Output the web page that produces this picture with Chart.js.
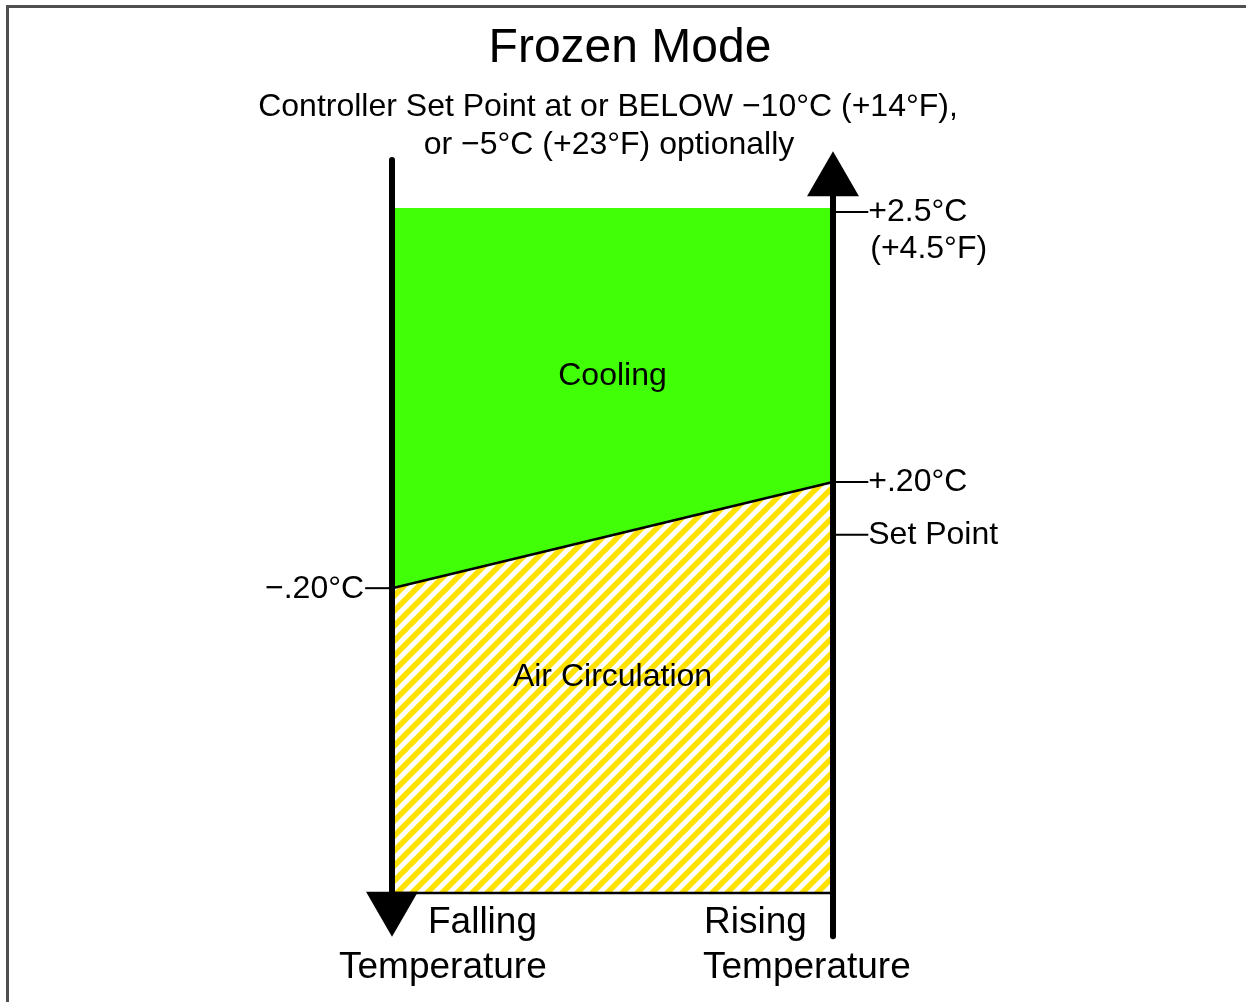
<!DOCTYPE html>
<html>
<head>
<meta charset="utf-8">
<script src="https://cdn.jsdelivr.net/npm/chart.js@4.4.1/dist/chart.umd.min.js"></script>
<style>
html, body { margin: 0; padding: 0; background: #fff; }
#c { display: block; }
</style>
</head>
<body>
<canvas id="c" width="1246" height="1002"></canvas>
<script>
// Frozen Mode: cooling / air circulation switching band
// x: 0 = falling-temperature side, 1 = rising-temperature side
// y: diagram level, 0 = bottom of band, 100 = top of cooling area
const sides = [0, 1];
const coolingTop = [100, 100];
const switchLevel = [44.5, 60.0];      // -.20°C falling, +.20°C rising
const floorLevel = [0, 0];
const fallingAxis = [107, -2.0];       // line top -> arrow head
const risingAxis = [-6.3, 103.9];      // line bottom -> arrow head

const rightTickLevels = [99.4, 60.0, 52.3];
const rightTickLabels = [['+2.5°C', '(+4.5°F)'], ['+.20°C'], ['Set Point']];
const leftTickLevels = [44.5];
const leftTickLabels = ['\u2212.20°C'];

const zoneNames = ['Cooling', 'Air Circulation'];
const zoneLevels = [74.2, 30.2];

const titleText = 'Frozen Mode';
const subtitleLines = ['Controller Set Point at or BELOW \u221210°C (+14°F),', 'or \u22125°C (+23°F) optionally'];
const sideLabels = [['Falling', 'Temperature'], ['Rising', 'Temperature']];

const FONT = "'Liberation Sans', Arial, Helvetica, sans-serif";
const GREEN = '#40ff06';
const YELLOW = '#ffe200';

// diagonal yellow/white hatch for the air circulation band
function makeHatch() {
    const s = 15;
    const c = document.createElement('canvas');
    c.width = s; c.height = s;
    const g = c.getContext('2d');
    g.fillStyle = '#fff';
    g.fillRect(0, 0, s, s);
    g.strokeStyle = YELLOW;
    g.lineWidth = 5.6;
    // lines x + y = 0, s, 2s so the stripes wrap across tiles
    for (const k of [0, s, 2 * s]) {
        g.beginPath();
        g.moveTo(-3, k + 3);
        g.lineTo(k + 3, -3);
        g.stroke();
    }
    return g.createPattern(c, 'repeat');
}

const pts = ys => sides.map((x, i) => ({ x: x, y: ys[i] }));

const tickSets = [];
rightTickLevels.forEach(v => tickSets.push({
    data: [{ x: 1, y: v }, { x: 1.08, y: v }],
    borderColor: '#000', borderWidth: 2, pointRadius: 0, fill: false, clip: false, order: 2
}));
leftTickLevels.forEach(v => tickSets.push({
    data: [{ x: -0.061, y: v }, { x: 0, y: v }],
    borderColor: '#000', borderWidth: 2, pointRadius: 0, fill: false, clip: false, order: 2
}));

const textPlugin = {
    id: 'diagramText',
    beforeDraw(chart) {
        const ctx = chart.ctx;
        ctx.save();
        ctx.fillStyle = '#fff';
        ctx.fillRect(0, 0, chart.width, chart.height);
        ctx.fillStyle = '#505050';
        ctx.fillRect(6, 5, chart.width - 6, 3);
        ctx.fillRect(6, 5, 3, chart.height - 5);
        ctx.restore();
    },
    afterDraw(chart) {
        const ctx = chart.ctx;
        const xs = chart.scales.x, ys = chart.scales.y;
        ctx.save();
        ctx.fillStyle = '#000';
        ctx.textBaseline = 'alphabetic';

        ctx.textAlign = 'center';
        ctx.font = '48px ' + FONT;
        ctx.fillText(titleText, 630, 62);
        ctx.font = '32px ' + FONT;
        ctx.fillText(subtitleLines[0], 608, 116);
        ctx.fillText(subtitleLines[1], 609, 154);

        zoneNames.forEach((n, i) => {
            ctx.fillText(n, xs.getPixelForValue(0.5), ys.getPixelForValue(zoneLevels[i]));
        });

        ctx.textAlign = 'left';
        const rx = xs.getPixelForValue(1.08);
        rightTickLevels.forEach((v, i) => {
            const y = ys.getPixelForValue(v) + 9;
            rightTickLabels[i].forEach((t, j) => {
                ctx.fillText(t, rx + (j ? 2 : 0), y + j * 37);
            });
        });

        ctx.textAlign = 'right';
        leftTickLevels.forEach((v, i) => {
            ctx.fillText(leftTickLabels[i], xs.getPixelForValue(-0.061) - 1, ys.getPixelForValue(v) + 10);
        });

        ctx.textAlign = 'left';
        ctx.font = '37px ' + FONT;
        ctx.fillText(sideLabels[0][0], 428, 933);
        ctx.fillText(sideLabels[0][1], 339, 978);
        ctx.fillText(sideLabels[1][0], 704, 933);
        ctx.fillText(sideLabels[1][1], 703, 978);
        ctx.restore();
    }
};

new Chart(document.getElementById('c'), {
    type: 'line',
    data: {
        datasets: [
            {   // 0: switching line, air circulation below it
                data: pts(switchLevel),
                borderColor: '#000', borderWidth: 2.5,
                backgroundColor: makeHatch(),
                fill: 'origin', pointRadius: 0, clip: false, order: 4
            },
            {   // 1: cooling area above the switching line
                data: pts(coolingTop),
                borderWidth: 0, borderColor: GREEN,
                backgroundColor: GREEN,
                fill: 0, pointRadius: 0, order: 5
            },
            {   // 2: floor of the band
                data: pts(floorLevel),
                borderColor: '#000', borderWidth: 2.5,
                fill: false, pointRadius: 0, clip: false, order: 3
            },
            {   // 3: falling temperature axis
                data: [{ x: 0, y: fallingAxis[0] }, { x: 0, y: fallingAxis[1] }],
                borderColor: '#000', borderWidth: 6, borderCapStyle: 'round',
                pointRadius: [0, 30], pointStyle: 'triangle', rotation: 180,
                pointBackgroundColor: '#000', pointBorderWidth: 0,
                fill: false, clip: false, order: 1
            },
            {   // 4: rising temperature axis
                data: [{ x: 1, y: risingAxis[0] }, { x: 1, y: risingAxis[1] }],
                borderColor: '#000', borderWidth: 6, borderCapStyle: 'round',
                pointRadius: [0, 30], pointStyle: 'triangle', rotation: 0,
                pointBackgroundColor: '#000', pointBorderWidth: 0,
                fill: false, clip: false, order: 1
            },
            ...tickSets
        ]
    },
    options: {
        responsive: false,
        animation: false,
        devicePixelRatio: 1,
        layout: { padding: { left: 392, right: 413, top: 208, bottom: 109 } },
        plugins: {
            legend: { display: false },
            tooltip: { enabled: false },
            title: { display: false }
        },
        elements: { line: { tension: 0 } },
        scales: {
            x: { type: 'linear', min: 0, max: 1, display: false },
            y: { type: 'linear', min: 0, max: 100, display: false }
        }
    },
    plugins: [textPlugin]
});
</script>
</body>
</html>
